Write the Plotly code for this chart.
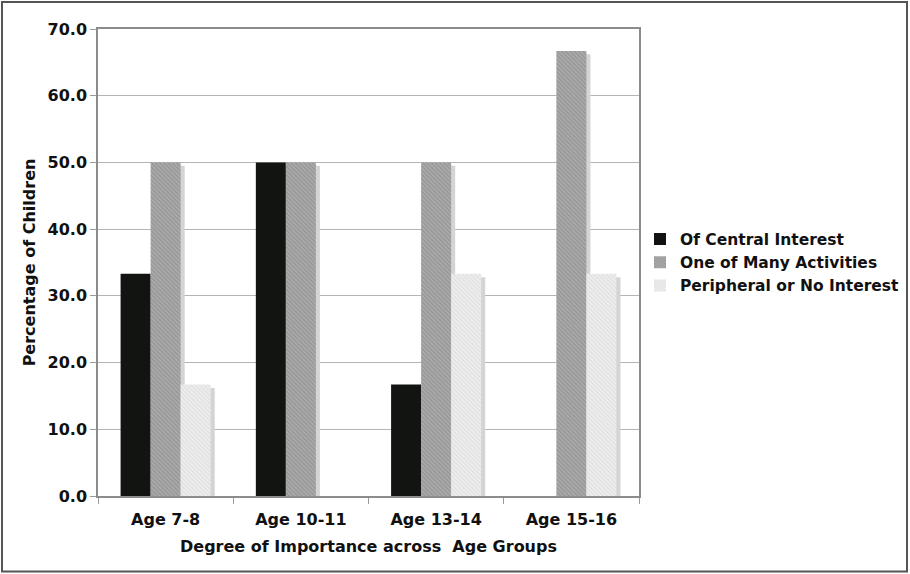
import plotly.graph_objects as go

# Survey results: share of children by degree of importance, per age group
age_groups = ["Age 7-8", "Age 10-11", "Age 13-14", "Age 15-16"]
central = [33.3, 50.0, 16.7, 0.0]
many_activities = [50.0, 50.0, 50.0, 66.7]
peripheral = [16.7, 0.0, 33.3, 33.3]
y_ticks = [0, 10, 20, 30, 40, 50, 60, 70]

W, H = 910, 574
M = dict(l=98, r=271, t=29, b=78)

series = [
    ("Of Central Interest", central,
     dict(color="#111411", line=dict(width=0))),
    ("One of Many Activities", many_activities,
     dict(color="#a0a0a0", line=dict(width=0),
          pattern=dict(shape="\\", fgcolor="#7c7c7c", bgcolor="#ababab",
                       size=3, solidity=0.4, fillmode="overlay"))),
    ("Peripheral or No Interest", peripheral,
     dict(color="#ececec", line=dict(width=0),
          pattern=dict(shape="\\", fgcolor="#d0d0d0", bgcolor="#eeeeee",
                       size=3, solidity=0.4, fillmode="overlay"))),
]

bar_w = 0.222
offsets = [-0.333, -0.111, 0.111]

fig = go.Figure()

# soft drop shadows behind each bar
for (name, vals, mk), off in zip(series, offsets):
    fig.add_trace(go.Bar(
        x=age_groups, y=vals, base=-0.5, width=bar_w, offset=off + 0.03,
        marker=dict(color="#d4d4d4", line=dict(width=0)),
        showlegend=False, hoverinfo="skip",
    ))

for (name, vals, mk), off in zip(series, offsets):
    fig.add_trace(go.Bar(
        x=age_groups, y=vals, name=name, width=bar_w, offset=off,
        marker=mk,
    ))

pw = W - M["l"] - M["r"]
ph = H - M["t"] - M["b"]

fig.update_layout(
    width=W, height=H,
    margin=dict(l=M["l"], r=M["r"], t=M["t"], b=M["b"], pad=0, autoexpand=False),
    barmode="overlay",
    paper_bgcolor="white", plot_bgcolor="white",
    font=dict(family="DejaVu Sans", size=16, color="#111111"),
    showlegend=True,
    legend=dict(
        x=(640 - M["l"]) / pw, y=0.5, xanchor="left", yanchor="middle",
        font=dict(family="DejaVu Sans", size=15.5, color="#111111", weight="bold"),
        itemwidth=30, itemsizing="constant", tracegroupgap=0,
        bgcolor="rgba(0,0,0,0)",
    ),
    xaxis=dict(
        type="category",
        showline=True, linecolor="#8c8c8c", linewidth=1.5, mirror=True,
        ticks="outside", tickson="boundaries", ticklen=6, tickcolor="#9a9a9a",
        tickfont=dict(size=16, weight="bold"), ticklabelstandoff=8,
        title=dict(text="Degree of Importance across\u00a0 Age Groups",
                   font=dict(size=16, weight="bold"), standoff=13),
        showgrid=False,
    ),
    yaxis=dict(
        range=[0, 70], tickvals=y_ticks, tickformat=".1f",
        showline=True, linecolor="#8c8c8c", linewidth=1.5, mirror=True,
        ticks="outside", ticklen=6, tickcolor="#9a9a9a",
        gridcolor="#b4b4b4", gridwidth=1,
        tickfont=dict(size=16, weight="bold"),
        title=dict(text="Percentage of Children",
                   font=dict(size=16, weight="bold"), standoff=8),
        zeroline=False,
    ),
    shapes=[dict(
        type="rect", xref="paper", yref="paper",
        x0=-(M["l"] - 2) / pw, x1=1 + (M["r"] - 3) / pw,
        y0=-(M["b"] - 2.5) / ph, y1=1 + (M["t"] - 2) / ph,
        line=dict(color="#555555", width=2), fillcolor="rgba(0,0,0,0)",
        layer="below",
    )],
)

fig.write_html("out.html")
